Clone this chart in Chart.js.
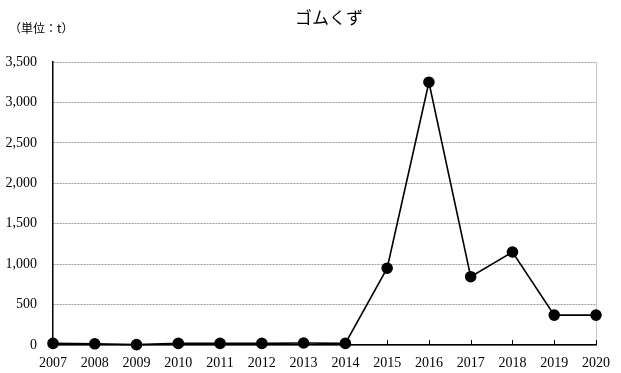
<!DOCTYPE html>
<html>
<head>
<meta charset="utf-8">
<script src="https://cdn.jsdelivr.net/npm/chart.js@4"></script>
<style>
  html, body { margin: 0; padding: 0; background: #fff; }
  #wrap { width: 621px; height: 373px; position: relative; }
</style>
</head>
<body>
<div id="wrap"><canvas id="chart" width="621" height="373"></canvas></div>
<script>
const chartTitle = "ゴムくず";
const unitLabel = "（単位：t）";
const years = ["2007", "2008", "2009", "2010", "2011", "2012", "2013", "2014", "2015", "2016", "2017", "2018", "2019", "2020"];
const rubberWaste = [20, 15, 5, 20, 20, 20, 25, 20, 950, 3250, 845, 1150, 370, 370];
const yTicks = [0, 500, 1000, 1500, 2000, 2500, 3000, 3500];

// 見出し・単位・右枠・内向き目盛り
const decorations = {
    id: "decorations",
    beforeDatasetsDraw(chart) {
        const ctx = chart.ctx;
        const area = chart.chartArea;
        const xs = chart.scales.x;
        ctx.save();
        ctx.strokeStyle = "#c8c8c8";
        ctx.lineWidth = 1;
        ctx.beginPath();
        ctx.moveTo(Math.round(area.right) + 0.5, area.top);
        ctx.lineTo(Math.round(area.right) + 0.5, area.bottom);
        ctx.stroke();

        ctx.strokeStyle = "#000";
        ctx.beginPath();
        for (let i = 1; i < years.length; i++) {
            const px = Math.round(xs.getPixelForValue(i)) + 0.5;
            ctx.moveTo(px, area.bottom);
            ctx.lineTo(px, area.bottom - 5);
        }
        ctx.stroke();
        ctx.restore();
    },
    afterDraw(chart) {
        const ctx = chart.ctx;
        ctx.save();
        ctx.fillStyle = "#000";
        ctx.textBaseline = "middle";
        ctx.textAlign = "center";
        ctx.font = "17px 'Noto Sans CJK JP', serif";
        ctx.fillText(chartTitle, 329, 18);
        ctx.textAlign = "left";
        ctx.font = "12px 'Noto Sans CJK JP', serif";
        ctx.fillText(unitLabel, 9, 28);
        ctx.restore();
    }
};

const ctx = document.getElementById("chart").getContext("2d");
new Chart(ctx, {
    type: "line",
    data: {
        labels: years,
        datasets: [{
            data: rubberWaste,
            borderColor: "#000",
            backgroundColor: "#000",
            borderWidth: 1.6,
            pointRadius: 5,
            pointHoverRadius: 5,
            fill: false,
            tension: 0,
            clip: false
        }]
    },
    options: {
        responsive: false,
        animation: false,
        layout: { padding: { top: 62, right: 25, bottom: 0, left: 0 } },
        plugins: {
            legend: { display: false },
            tooltip: { enabled: false }
        },
        scales: {
            x: {
                offset: false,
                afterFit(scale) { scale.height = 28; },
                grid: { display: false, drawTicks: false },
                border: { color: "#000", width: 1.5 },
                ticks: {
                    color: "#000",
                    padding: 10,
                    maxRotation: 0,
                    autoSkip: false,
                    font: { family: "'Liberation Serif', serif", size: 14 }
                }
            },
            y: {
                min: 0,
                max: 3500,
                afterFit(scale) { scale.width = 53; },
                afterBuildTicks(scale) { scale.ticks = yTicks.map(v => ({ value: v })); },
                grid: {
                    color: "#9a9a9a",
                    lineWidth: 1,
                    drawTicks: false
                },
                // v4: border.dash は目盛り線の点線
                border: { color: "#000", width: 1.5, dash: [2, 1] },
                ticks: {
                    color: "#000",
                    padding: 16,
                    font: { family: "'Liberation Serif', serif", size: 14 },
                    callback: v => v.toLocaleString("en-US")
                }
            }
        }
    },
    plugins: [decorations]
});
</script>
</body>
</html>
